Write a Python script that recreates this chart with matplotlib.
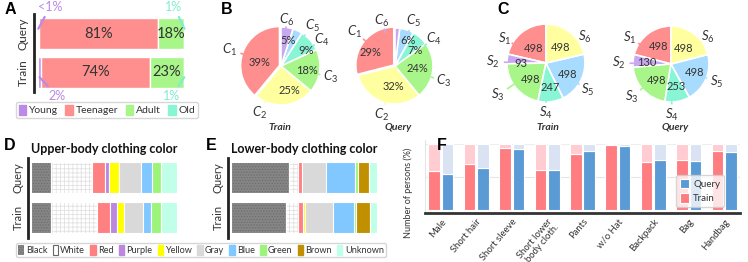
import matplotlib
matplotlib.use('Agg')
import matplotlib.pyplot as plt
import numpy as np
from matplotlib.patches import Patch

plt.rcParams['font.family'] = ['Lato', 'DejaVu Sans']
plt.rcParams['mathtext.fontset'] = 'custom'
plt.rcParams['mathtext.it'] = 'Lato:italic'
plt.rcParams['mathtext.rm'] = 'Lato'
plt.rcParams['hatch.linewidth'] = 0.6

TXT = '#333333'

# ---------------- data ----------------
age_groups = ['Young', 'Teenager', 'Adult', 'Old']
age_query = [0.4, 81, 18, 0.6]
age_train = [2, 74, 23, 1]
age_query_labels = ['<1%', '81%', '18%', '1%']
age_train_labels = ['2%', '74%', '23%', '1%']

cloth_names = ['$C_1$', '$C_2$', '$C_3$', '$C_4$', '$C_5$', '$C_6$']
cloth_train = [39, 25, 18, 9, 4, 5]
cloth_query = [29, 32, 24, 7, 6, 2]
cloth_train_show = [True, True, True, True, False, True]
cloth_query_show = [True, True, True, True, True, False]

scene_names = ['$S_1$', '$S_2$', '$S_3$', '$S_4$', '$S_5$', '$S_6$']
scene_train = [498, 93, 498, 247, 498, 498]
scene_query = [498, 130, 498, 253, 498, 498]

color_names = ['Black', 'White', 'Red', 'Purple', 'Yellow',
               'Gray', 'Blue', 'Green', 'Brown', 'Unknown']
upper_query = [13.6, 27.9, 9.2, 2.4, 7.5, 15.0, 7.5, 6.1, 0, 10.9]
upper_train = [13.6, 31.3, 9.5, 4.8, 4.8, 12.9, 5.4, 6.8, 0, 10.9]
lower_query = [40.0, 6.2, 2.1, 0, 0, 16.6, 20.0, 2.1, 7.6, 5.5]
lower_train = [37.9, 8.3, 3.4, 0, 1.4, 18.6, 14.5, 1.7, 9.3, 4.8]

attributes = ['Male', 'Short hair', 'Short sleeve', 'Short lower\nbody cloth.',
              'Pants', 'w/o Hat', 'Backpack', 'Bag', 'Handbag']
attr_train = [59, 69, 94, 60, 85, 98, 73, 76, 89]
attr_query = [55, 64, 93, 61, 89, 97, 76, 74, 87]

# ---------------- colours ----------------
RED = '#ff8f8f'
YEL = '#ffff9f'
GRN = '#a8f58a'
CYA = '#88f5d5'
BLU = '#a8dcff'
PUR = '#c8a8f0'
age_colors = ['#b98ae6', RED, GRN, CYA]

W, H = 748, 262
fig = plt.figure(figsize=(W / 100, H / 100), dpi=100)


def add_ax(x0, y0, x1, y1):
    return fig.add_axes([x0 / W, 1 - y1 / H, (x1 - x0) / W, (y1 - y0) / H])


def ftext(x, y, s, **kw):
    fig.text(x / W, 1 - y / H, s, **kw)


def panel_letter(x, y, s):
    ftext(x, y, s, fontsize=11.5, fontweight='bold', family='Liberation Sans',
          ha='center', va='center', color='black')


# ---------------- Panel A ----------------
axA = add_ax(34, 14, 190, 92)
pxu = 1.47
axA.set_xlim(-(38 - 34) / pxu, (190 - 38) / pxu)
axA.set_ylim(-0.5, 1.5)
for row, vals, labs in [(1, age_query, age_query_labels), (0, age_train, age_train_labels)]:
    left = 0
    for i, (v, c) in enumerate(zip(vals, age_colors)):
        axA.barh(row, v, left=left, height=0.8, color=c, edgecolor='white', linewidth=1)
        if i in (1, 2):
            axA.text(left + v / 2, row, labs[i], ha='center', va='center',
                     fontsize=10.5, color=TXT)
        left += v
for spn in ['top', 'right', 'bottom']:
    axA.spines[spn].set_visible(False)
axA.spines['left'].set_linewidth(2)
axA.spines['left'].set_color('#222222')
axA.set_xticks([])
axA.set_yticks([1, 0])
axA.set_yticklabels(['Query', 'Train'], rotation=90, va='center', fontsize=8.5, color=TXT)
axA.tick_params(axis='y', length=0, pad=4)

ann = [
    (age_query_labels[0], (age_query[0] / 2, 1.12), (50, 7), age_colors[0]),
    (age_query_labels[3], (100 - age_query[3] / 2, 1.12), (174, 7), '#80ecd0'),
    (age_train_labels[0], (age_train[0] / 2, -0.12), (57, 96), age_colors[0]),
    (age_train_labels[3], (100 - age_train[3] / 2, -0.12), (172, 96), '#80ecd0'),
]
for lab, xy, txy, col in ann:
    axA.annotate(lab, xy=xy, xytext=(txy[0], H - txy[1]), textcoords='figure pixels',
                 ha='center', va='center', fontsize=9, color=col, annotation_clip=False,
                 arrowprops=dict(arrowstyle='-', color=col, lw=1.6, shrinkA=1, shrinkB=0))

fig.legend([Patch(facecolor=c, edgecolor=c) for c in age_colors], age_groups,
           loc='center', bbox_to_anchor=(107 / W, 1 - 110 / H), ncol=4,
           fontsize=7.5, handlelength=0.7, handleheight=1.1, handletextpad=0.3,
           columnspacing=0.7, borderpad=0.25, frameon=True, fancybox=True,
           edgecolor='#cccccc', labelcolor=TXT)
panel_letter(10, 10, 'A')


# ---------------- Pies ----------------
def draw_pie(cx, cy, R, values, colors, names, name_pos, show, fmt, val_pos, title, title_x,
             explode=None, pfs=8):
    m = 1.7
    ax = add_ax(cx - m * R, cy - m * R, cx + m * R, cy + m * R)
    wedges, _ = ax.pie(values, colors=colors, startangle=90, counterclock=True,
                       explode=explode, radius=1,
                       wedgeprops=dict(edgecolor='white', linewidth=1.2))
    ax.set_xlim(-m, m)
    ax.set_ylim(-m, m)
    ax.set_aspect('equal')
    ax.axis('off')
    total = float(sum(values))
    for w, v, s, (px, py) in zip(wedges, values, show, val_pos):
        if not s:
            continue
        ax.text((px - cx) / R, -(py - cy) / R, fmt(v, total),
                ha='center', va='center', fontsize=pfs, color=TXT)
    for name, (px, py), c in zip(names, name_pos, colors):
        ux, uy = (px - cx) / R, -(py - cy) / R
        d = np.hypot(ux, uy)
        dx, dy = ux / d, uy / d
        ax.plot([1.0 * dx, (d - 0.3) * dx], [1.0 * dy, (d - 0.3) * dy], color=c, lw=1.2,
                clip_on=False)
        ax.text(ux, uy, name, ha='center', va='center', fontsize=9.5, color=TXT)
    ftext(title_x, 127, title, fontsize=7.5, fontweight='bold', style='italic',
          ha='center', va='center', color=TXT)


cloth_colors = [RED, YEL, GRN, CYA, BLU, PUR]
scene_colors = [RED, PUR, GRN, CYA, BLU, YEL]
pct = lambda v, t: f"{v:.0f}%"
num = lambda v, t: f"{v}"

draw_pie(281, 66, 39, cloth_train, cloth_colors, cloth_names,
         [(230, 50), (260, 113), (331, 77), (322, 40), (312, 26), (287, 20)],
         cloth_train_show, pct,
         [(260, 62), (289, 91), (307, 71), (306, 50), (300, 40), (288, 41)],
         'Train', 280, explode=[0.04, 0, 0, 0, 0, 0])
draw_pie(395, 66, 38, cloth_query, cloth_colors, cloth_names,
         [(355, 32), (382, 115), (444, 81), (434, 39), (413, 21), (382, 21)],
         cloth_query_show, pct,
         [(370, 53), (393, 86), (417, 69), (415, 51), (408, 40), (398, 36)],
         'Query', 398, explode=[0.04, 0, 0, 0, 0, 0])
draw_pie(546, 63, 39, scene_train, scene_colors, scene_names,
         [(505, 39), (493, 62), (498, 95), (546, 113), (588, 90), (585, 37)],
         [True] * 6, num,
         [(534, 48), (521, 63), (531, 79), (550, 87), (568, 74), (561, 47)],
         'Train', 548)
draw_pie(671, 64, 38, scene_query, scene_colors, scene_names,
         [(630, 38), (619, 63), (632, 97), (672, 115), (717, 82), (708, 37)],
         [True] * 6, num,
         [(659, 47), (647, 62), (657, 80), (676, 86), (695, 72), (684, 49)],
         'Query', 675)
panel_letter(227, 10, 'B')
panel_letter(503, 10, 'C')

# ---------------- Panels D & E ----------------
dcolors = ['#858585', '#ffffff', '#ff8080', '#bb88dd', '#ffff00',
           '#d9d9d9', '#80c8ff', '#9cf57a', '#c09000', '#c0ffe8']
hatches = ['......', '++++', None, None, None, None, None, None, None, None]
hcolors = ['#6e6e6e', '#e2e2e2'] + [None] * 8


def draw_colorbars(x0, x1, bar_end, query, train, title, tx):
    ax = add_ax(x0, 157.5, x1, 237.5)
    pu = (bar_end - (x0 + 3)) / 100.0
    ax.set_xlim(-3 / pu, (x1 - x0 - 3) / pu)
    ax.set_ylim(-0.5, 1.5)
    for row, vals in [(1, query), (0, train)]:
        left = 0
        for v, c, h, hc in zip(vals, dcolors, hatches, hcolors):
            if v <= 0:
                continue
            if h:
                ax.barh(row, v, left=left, height=0.78, color=c, edgecolor=hc,
                        linewidth=0, hatch=h)
                ax.barh(row, v, left=left, height=0.78, fill=False, edgecolor='white',
                        linewidth=0.8)
            else:
                ax.barh(row, v, left=left, height=0.78, color=c, edgecolor='white',
                        linewidth=0.8)
            left += v
    for spn in ['top', 'right', 'bottom']:
        ax.spines[spn].set_visible(False)
    ax.spines['left'].set_linewidth(2)
    ax.spines['left'].set_color('#222222')
    ax.set_xticks([])
    ax.set_yticks([1, 0])
    ax.set_yticklabels(['Query', 'Train'], rotation=90, va='center', fontsize=8, color=TXT)
    ax.tick_params(axis='y', length=0, pad=3)
    ftext(tx, 149, title, fontsize=9, fontweight='bold', ha='center', va='center',
          color='#111111')


draw_colorbars(28, 182, 177, upper_query, upper_train, 'Upper-body clothing color', 104)
draw_colorbars(228, 382, 377, lower_query, lower_train, 'Lower-body clothing color', 304)
panel_letter(10, 145, 'D')
panel_letter(211, 146, 'E')

leg_handles = []
for c, nm in zip(dcolors, color_names):
    if nm == 'White':
        leg_handles.append(Patch(facecolor='white', edgecolor='#666666', linewidth=0.8))
    elif nm == 'Black':
        leg_handles.append(Patch(facecolor=c, edgecolor='#6e6e6e', hatch='......', linewidth=0))
    else:
        leg_handles.append(Patch(facecolor=c, edgecolor=c))
fig.legend(leg_handles, color_names, loc='center', bbox_to_anchor=(201 / W, 1 - 250 / H),
           ncol=10, fontsize=6.6, handlelength=0.6, handleheight=1.3, handletextpad=0.25,
           columnspacing=0.55, borderpad=0.25, borderaxespad=0, frameon=True, fancybox=True,
           edgecolor='#cccccc', labelcolor=TXT)

# ---------------- Panel F ----------------
axF = add_ax(425, 140, 740, 213)
x = np.arange(len(attributes))
bw = 0.33
tr = np.array(attr_train, dtype=float)
qu = np.array(attr_query, dtype=float)
axF.axhline(50, color='#e6e6e6', lw=0.8, zorder=0)
axF.axhline(100, color='#eeeeee', lw=0.8, zorder=0)
axF.bar(x - 0.19, tr, bw, color='#ff7c80', edgecolor='white', linewidth=0.8, label='Train', zorder=2)
axF.bar(x - 0.19, 100 - tr, bw, bottom=tr, color='#ffccd2', edgecolor='white', linewidth=0.8, zorder=2)
axF.bar(x + 0.19, qu, bw, color='#5b9bd5', edgecolor='white', linewidth=0.8, label='Query', zorder=2)
axF.bar(x + 0.19, 100 - qu, bw, bottom=qu, color='#dae3f3', edgecolor='white', linewidth=0.8, zorder=2)
axF.set_xlim(-0.45, len(attributes) - 0.55)
axF.set_ylim(-5, 106)
for spn in ['top', 'right']:
    axF.spines[spn].set_visible(False)
axF.spines['left'].set_color('#e6e6e6')
axF.spines['left'].set_linewidth(0.8)
axF.spines['bottom'].set_color('#333333')
axF.spines['bottom'].set_linewidth(2)
axF.set_yticks([])
axF.set_xticks(x)
axF.set_xticklabels(attributes, rotation=50, ha='right', rotation_mode='anchor',
                    fontsize=6.8, color=TXT, linespacing=1.0)
axF.tick_params(axis='x', length=0, pad=3)
axF.set_ylabel('Number of persons (%)', fontsize=6.5, color=TXT)
axF.yaxis.set_label_coords(-12 / 315, (213 - 193) / 73)
hF, lF = axF.get_legend_handles_labels()
fig.legend([hF[1], hF[0]], [lF[1], lF[0]], loc='center', bbox_to_anchor=(700 / W, 1 - 191 / H),
           fontsize=7, handlelength=1.0, handleheight=1.1, handletextpad=0.4,
           borderpad=0.35, labelspacing=0.5, frameon=True, fancybox=True,
           edgecolor='#cccccc', labelcolor=TXT)
panel_letter(442, 146, 'F')

fig.savefig('out.png', dpi=100)
